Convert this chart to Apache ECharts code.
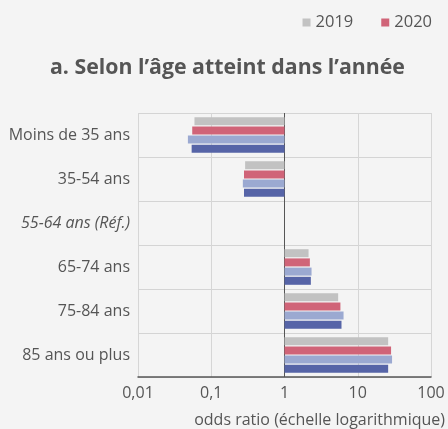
<!DOCTYPE html>
<html><head><meta charset="utf-8">
<script src="https://cdn.jsdelivr.net/npm/echarts@6/dist/echarts.min.js"></script>
<style>html,body{margin:0;padding:0;background:#f4f4f4;}#c{width:448px;height:429px;}</style>
</head><body><div id="c"></div>
<script>
const categories = ['Moins de 35 ans','35-54 ans','55-64 ans (Réf.)','65-74 ans','75-84 ans','85 ans ou plus'];
const s2019 = [0.059, 0.29, null, 2.13, 5.4, 26];
const s2020 = [0.055, 0.28, null, 2.22, 5.8, 28.5];
const s2019b = [0.048, 0.27, null, 2.34, 6.4, 29.4];
const s2020b = [0.054, 0.28, null, 2.29, 6.0, 26];
const xTicks = [0.01, 0.1, 1, 10, 100];
const colors = ['#c2c2c2','#d06478','#9ba9d1','#5664a7'];
const txt = '#555555';
const chart = echarts.init(document.getElementById('c'));
function mk(name, data, color){
  return {name, type:'bar', data, barWidth:8, barGap:'15%', itemStyle:{color}, silent:true};
}
chart.setOption({
  backgroundColor:'#f4f4f4',
  animation:false,
  textStyle:{fontFamily:'Open Sans'},
  title:{text:'a. Selon l’âge atteint dans l’année', left:45, top:52,
    textStyle:{fontFamily:'Open Sans', fontWeight:'bold', fontSize:21.3, color:txt}},
  legend:{data:['2019','2020'], right:11, top:9, itemWidth:8, itemHeight:8, itemGap:28, icon:'rect',
    textStyle:{fontFamily:'Open Sans', fontSize:16.5, color:txt}},
  grid:{left:138, right:15, top:113, bottom:52, containLabel:false},
  xAxis:{type:'log', logBase:10, min:xTicks[0], max:xTicks[xTicks.length-1],
    axisLine:{show:true, lineStyle:{color:'#555', width:1.5}},
    axisTick:{show:false},
    axisLabel:{fontFamily:'Open Sans', fontSize:16, color:txt, margin:8,
      formatter:v=>String(v).replace('.',',')},
    splitLine:{show:true, lineStyle:{color:['#d6d6d6','#d6d6d6','#555555','#d6d6d6','#d6d6d6'], width:1}},
    name:'odds ratio (échelle logarithmique)', nameLocation:'end', nameGap:14,
    nameTextStyle:{fontFamily:'Open Sans', fontSize:16, color:txt, align:'right', verticalAlign:'top', padding:[35,0,0,0]}
  },
  yAxis:{type:'category', data:categories, inverse:true,
    axisLine:{show:false}, axisTick:{show:false},
    axisLabel:{margin:8, fontSize:16, color:txt, fontFamily:'Open Sans',
      formatter:v=> v.indexOf('Réf')>=0 ? '{i|'+v+'}' : v,
      rich:{i:{fontStyle:'italic', fontSize:16, color:txt, fontFamily:'Open Sans'}}},
    splitLine:{show:true, lineStyle:{color:'#d4d4d4', width:1}}
  },
  series:[mk('2019', s2019, colors[0]), mk('2020', s2020, colors[1]), mk('2019 (b)', s2019b, colors[2]), mk('2020 (b)', s2020b, colors[3])]
});
</script></body></html>
